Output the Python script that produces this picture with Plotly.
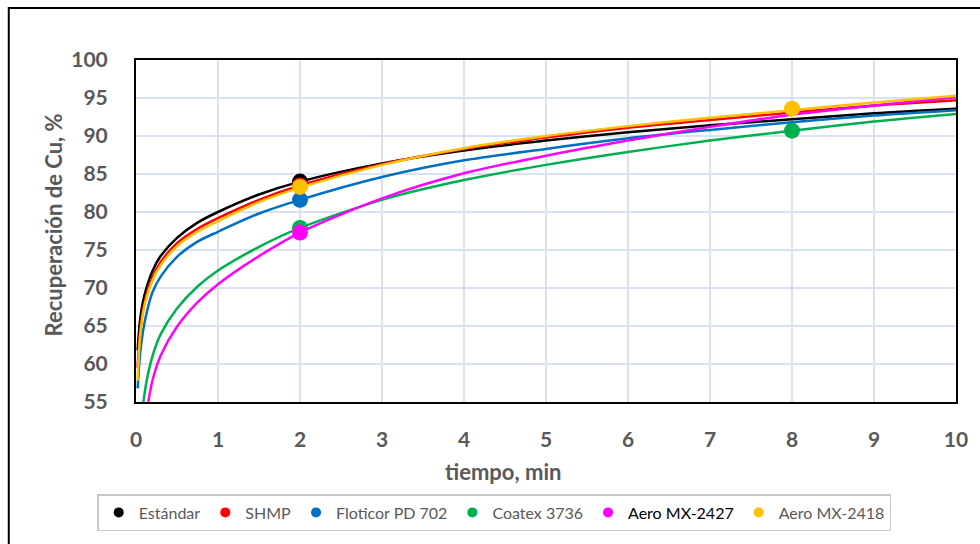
import plotly.graph_objects as go

# ---- data ----
series_names = ["Estándar", "SHMP", "Floticor PD 702", "Coatex 3736", "Aero MX-2427", "Aero MX-2418"]
series_colors = ["#000000", "#FF0000", "#0070C0", "#00B050", "#FF00FF", "#FFC000"]

# measured points (tiempo, min); None = no visible marker
t_points = [2, 8]
estandar_pts = [84.0, None]
shmp_pts = [83.5, None]
floticor_pts = [81.6, None]
coatex_pts = [77.9, 90.7]
mx2427_pts = [77.3, None]
mx2418_pts = [83.3, 93.6]

# trend curves
t_fit = [0.02, 0.05, 0.1, 0.2, 0.3, 0.5, 0.75, 1, 1.5, 2, 3, 4, 5, 6, 7, 8, 9, 10]
estandar_fit = [61.8, 65.8, 68.9, 72.2, 74.2, 76.6, 78.6, 80.0, 82.3, 84.0, 86.4, 88.1, 89.4, 90.5, 91.4, 92.2, 93.0, 93.6]
shmp_fit = [59.5, 64.3, 67.9, 71.4, 73.4, 75.9, 77.8, 79.2, 81.6, 83.5, 86.3, 88.3, 89.8, 91.1, 92.1, 93.1, 94.0, 94.7]
floticor_fit = [56.8, 61.3, 65.2, 69.4, 71.5, 74.1, 76.1, 77.4, 79.8, 81.6, 84.6, 86.8, 88.3, 89.7, 90.8, 91.8, 92.7, 93.4]
mx2418_fit = [57.8, 63.6, 67.5, 71.0, 73.0, 75.5, 77.4, 78.8, 81.3, 83.2, 86.2, 88.4, 90.0, 91.3, 92.4, 93.4, 94.4, 95.3]

t_fit_coatex = [0.09, 0.13, 0.2, 0.3, 0.5, 0.75, 1, 1.5, 2, 3, 4, 5, 6, 7, 8, 9, 10]
coatex_fit = [55.0, 57.8, 61.0, 63.9, 67.3, 70.2, 72.3, 75.4, 77.9, 81.6, 84.2, 86.2, 87.9, 89.4, 90.7, 91.9, 92.9]

t_fit_mx2427 = [0.15, 0.2, 0.3, 0.5, 0.75, 1, 1.5, 2, 3, 4, 5, 6, 7, 8, 9, 10]
mx2427_fit = [55.0, 57.8, 61.1, 64.9, 68.1, 70.5, 74.2, 77.3, 81.8, 85.1, 87.4, 89.4, 91.2, 92.8, 94.0, 95.1]

x_ticks = [0, 1, 2, 3, 4, 5, 6, 7, 8, 9, 10]
y_ticks = [55, 60, 65, 70, 75, 80, 85, 90, 95, 100]

curves = [
    (t_fit, estandar_fit, estandar_pts),
    (t_fit, shmp_fit, shmp_pts),
    (t_fit, floticor_fit, floticor_pts),
    (t_fit_coatex, coatex_fit, coatex_pts),
    (t_fit_mx2427, mx2427_fit, mx2427_pts),
    (t_fit, mx2418_fit, mx2418_pts),
]

GRAY = "#595959"
FONT = "Lato, 'Open Sans', sans-serif"

fig = go.Figure()
for name, color, (tx, ty, pts) in zip(series_names, series_colors, curves):
    fig.add_trace(go.Scatter(x=tx, y=ty, mode="lines", line=dict(color=color, width=2.5, shape="spline", smoothing=0.8),
                             showlegend=False, hoverinfo="skip"))
    fig.add_trace(go.Scatter(x=t_points, y=pts, mode="markers", marker=dict(color=color, size=16),
                             showlegend=False, name=name))

for name, color in zip(series_names, series_colors):
    label = name
    if name == "Aero MX-2427":
        label = "<span style='color:#000000'>" + name + "</span>"
    fig.add_trace(go.Scatter(x=[None], y=[None], mode="markers", marker=dict(color=color, size=10),
                             name=label, showlegend=True))

L, R, T, B = 136, 19, 60, 142
W, H = 980, 544
pw, ph = W - L - R, H - T - B

def px(xp):
    return (xp - L) / pw

def py(yp):
    return (H - B - yp) / ph

fig.update_layout(
    width=W, height=H,
    margin=dict(l=L, r=R, t=T, b=B),
    paper_bgcolor="white", plot_bgcolor="white",
    font=dict(family=FONT, color=GRAY),
    legend=dict(orientation="h", x=px(97), y=py(494), xanchor="left", yanchor="top",
                bordercolor="#C8C8C8", borderwidth=1.5, bgcolor="white",
                font=dict(family=FONT, size=16, color=GRAY), itemwidth=30, tracegroupgap=0),
    xaxis=dict(range=[0, 10], tickvals=x_ticks, showgrid=True, gridcolor="#D9E1F2", gridwidth=1.5,
               showline=True, linecolor="black", linewidth=2, mirror=True, zeroline=False,
               tickfont=dict(family=FONT, size=21, color=GRAY, weight="bold"), ticks="", ticklabelstandoff=18),
    yaxis=dict(range=[55, 100], tickvals=y_ticks, showgrid=True, gridcolor="#D9E1F2", gridwidth=1.5,
               showline=True, linecolor="black", linewidth=2, mirror=True, zeroline=False,
               tickfont=dict(family=FONT, size=21, color=GRAY, weight="bold"), ticks="", ticklabelstandoff=22),
    annotations=[
        dict(text="tiempo, min", xref="paper", yref="paper", x=px(505), y=py(471), xanchor="center", yanchor="middle",
             showarrow=False, font=dict(family=FONT, size=22, color=GRAY, weight="bold")),
        dict(text="Recuperación de Cu, %", xref="paper", yref="paper", x=px(54), y=py(225), xanchor="center",
             yanchor="middle", textangle=-90, showarrow=False, font=dict(family=FONT, size=22, color=GRAY, weight="bold")),
    ],
    shapes=[
        dict(type="rect", xref="paper", yref="paper", x0=px(8), x1=px(1000), y0=py(8), y1=py(600),
             line=dict(color="black", width=2), layer="below"),
    ],
)

fig.write_html("out.html")
